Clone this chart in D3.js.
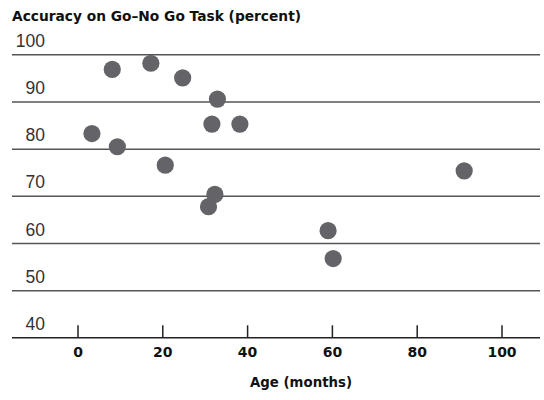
<!DOCTYPE html>
<html><head><meta charset="utf-8">
<script src="https://cdn.jsdelivr.net/npm/d3@7"></script>
<style>body{margin:0;background:#fff}svg{display:block}</style>
</head><body>
<svg id="c" width="544" height="400"></svg>
<script>
const ageMonths = [8.2, 17.3, 24.8, 33.0, 31.7, 38.3, 3.4, 9.4, 20.7, 32.4, 30.9, 91.2, 59.1, 60.3];
const accuracy  = [96.8, 98.1, 95.0, 90.5, 85.2, 85.2, 83.2, 80.4, 76.5, 70.3, 67.7, 75.3, 62.6, 56.7];
const yTicks = [40, 50, 60, 70, 80, 90, 100];
const xTicks = [0, 20, 40, 60, 80, 100];
const title = "Accuracy on Go\u2013No Go Task (percent)";
const xTitle = "Age (months)";

const svg = d3.select("#c");
const x = d3.scaleLinear().domain([0, 100]).range([77.5, 501.5]);
const y = d3.scaleLinear().domain([40, 100]).range([337.3, 54.3]);
const gridL = 12, gridR = 540;
const font = "'Liberation Sans', Arial, sans-serif";
const bold = "'DejaVu Sans', sans-serif";

svg.append("text").attr("x", 12).attr("y", 20.5).attr("font-family", bold)
  .attr("font-weight", "bold").attr("font-size", 14).attr("fill", "#111")
  .attr("textLength", 289).attr("lengthAdjust", "spacingAndGlyphs").text(title);

// y grid + labels
const yAxis = d3.axisLeft(y).tickValues(yTicks).tickSize(-(gridR - gridL)).tickFormat(d3.format("d"));
const gy = svg.append("g").attr("transform", `translate(${gridL},0)`).call(yAxis);
gy.select(".domain").remove();
gy.selectAll(".tick line").attr("stroke", d => d === 40 ? "#222" : "#555").attr("stroke-width", 1.5);
gy.selectAll(".tick text").attr("x", 33).attr("dy", "-0.45em").attr("text-anchor", "end")
  .attr("font-family", font).attr("font-size", 17.5).attr("fill", "#333");

// x ticks
const xAxis = d3.axisTop(x).tickValues(xTicks).tickSize(12).tickFormat(d3.format("d"));
const gx = svg.append("g").attr("transform", `translate(0,${y(40)})`).call(xAxis);
gx.select(".domain").remove();
gx.selectAll(".tick line").attr("stroke", "#222").attr("stroke-width", 1.5);
gx.selectAll(".tick text").attr("y", 20).attr("dy", "0").attr("font-family", bold)
  .attr("font-weight", "bold").attr("font-size", 14).attr("fill", "#111");

svg.append("text").attr("x", 301).attr("y", 386.5).attr("text-anchor", "middle")
  .attr("font-family", bold).attr("font-weight", "bold").attr("font-size", 14).attr("fill", "#111")
  .attr("textLength", 102).attr("lengthAdjust", "spacingAndGlyphs").text(xTitle);

svg.append("g").selectAll("circle").data(ageMonths.map((a, i) => [a, accuracy[i]]))
  .join("circle").attr("cx", d => x(d[0])).attr("cy", d => y(d[1])).attr("r", 8.6)
  .attr("fill", "#646468");
</script>
</body></html>
